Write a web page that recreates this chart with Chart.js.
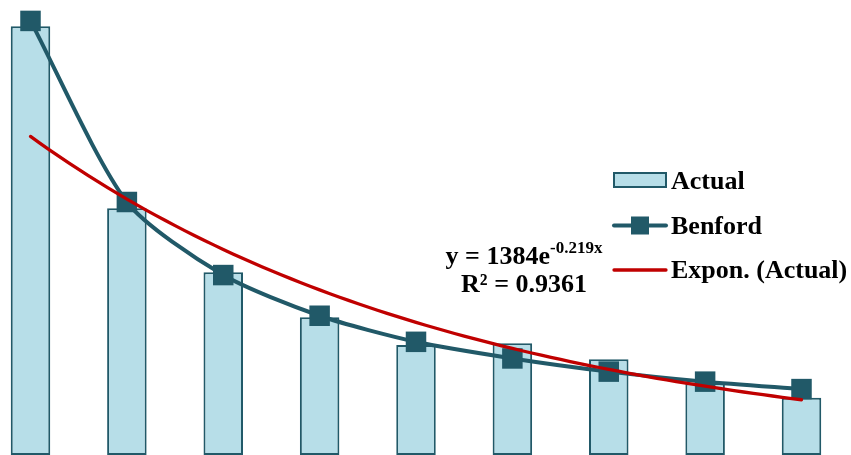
<!DOCTYPE html>
<html>
<head>
<meta charset="utf-8">
<script src="https://cdn.jsdelivr.net/npm/chart.js@4/dist/chart.umd.min.js"></script>
<style>
  html, body { margin: 0; padding: 0; background: #ffffff; overflow: hidden; }
  #wrap { position: relative; width: 851px; height: 455px; }
</style>
</head>
<body>
<div id="wrap"><canvas id="chart" width="851" height="455"></canvas></div>
<script>
// Leading digits 1..9
const digits = [1, 2, 3, 4, 5, 6, 7, 8, 9];
// Observed counts of each leading digit
const actual = [1496, 861, 638, 481, 384, 390, 334, 250, 200];
// Counts expected under Benford's law
const benford = [1515, 883, 628, 486, 395, 337, 291, 256, 230];
// Exponential trendline fitted to the observed counts: y = a * e^(b x)
const trendA = 1384;
const trendB = -0.219;
const trendR2 = 0.9361;

const TEAL = '#215968';
const LIGHT = '#B7DEE8';
const RED = '#C00000';
const SERIF = '"Liberation Serif", "Times New Roman", serif';

// Trendline sampled finely between the first and last digit
const trendPoints = [];
for (let x = digits[0]; x <= digits[digits.length - 1] + 1e-9; x += 0.1) {
  trendPoints.push({ x: x, y: trendA * Math.exp(trendB * x) });
}

// Legend and trendline equation drawn on top of the plot
const overlay = {
  id: 'overlay',
  afterDatasetsDraw(chart) {
    const ctx = chart.ctx;
    ctx.save();
    ctx.textBaseline = 'alphabetic';
    ctx.textAlign = 'left';

    // legend: Actual
    ctx.fillStyle = LIGHT;
    ctx.fillRect(614, 173, 52, 14);
    ctx.strokeStyle = TEAL;
    ctx.lineWidth = 2;
    ctx.strokeRect(614, 173, 52, 14);

    // legend: Benford
    ctx.lineCap = 'round';
    ctx.lineWidth = 4;
    ctx.beginPath();
    ctx.moveTo(614, 225.5);
    ctx.lineTo(666, 225.5);
    ctx.stroke();
    ctx.fillStyle = TEAL;
    ctx.fillRect(631, 216.5, 18, 18);

    // legend: trendline
    ctx.strokeStyle = RED;
    ctx.lineWidth = 3.3;
    ctx.beginPath();
    ctx.moveTo(614, 270);
    ctx.lineTo(666, 270);
    ctx.stroke();

    ctx.fillStyle = '#000';
    ctx.font = 'bold 26px ' + SERIF;
    ctx.fillText('Actual', 671, 189);
    ctx.fillText('Benford', 671, 233.5);
    ctx.fillText('Expon. (Actual)', 671, 278);

    // equation
    const main = 'y = ' + trendA + 'e';
    const sup = (trendB < 0 ? '-' : '') + Math.abs(trendB).toFixed(3) + 'x';
    ctx.font = 'bold 26px ' + SERIF;
    const wMain = ctx.measureText(main).width;
    ctx.font = 'bold 17px ' + SERIF;
    const wSup = ctx.measureText(sup).width;
    const cx = 524;
    const x0 = cx - (wMain + wSup) / 2;
    ctx.font = 'bold 26px ' + SERIF;
    ctx.fillText(main, x0, 263.5);
    ctx.font = 'bold 17px ' + SERIF;
    ctx.fillText(sup, x0 + wMain, 253);

    ctx.font = 'bold 26px ' + SERIF;
    ctx.textAlign = 'center';
    ctx.fillText('R\u00B2 = ' + trendR2.toFixed(4), cx, 291.5);
    ctx.restore();
  }
};

new Chart(document.getElementById('chart'), {
  data: {
    labels: digits,
    datasets: [
      {
        type: 'bar',
        label: 'Actual',
        data: actual,
        backgroundColor: LIGHT,
        borderColor: TEAL,
        borderWidth: 2,
        borderSkipped: false,
        categoryPercentage: 1,
        barPercentage: 0.41,
        order: 2
      },
      {
        type: 'line',
        label: 'Benford',
        data: benford,
        borderColor: TEAL,
        backgroundColor: TEAL,
        borderWidth: 4,
        tension: 0.25,
        pointStyle: 'rect',
        pointRadius: 14.5,
        pointBorderWidth: 0,
        fill: false,
        order: 1
      },
      {
        type: 'line',
        label: 'Expon. (Actual)',
        data: trendPoints,
        borderColor: RED,
        borderWidth: 3.3,
        borderCapStyle: 'round',
        pointRadius: 0,
        tension: 0,
        fill: false,
        order: 0
      }
    ]
  },
  options: {
    responsive: false,
    animation: false,
    devicePixelRatio: 1,
    layout: { padding: 0, autoPadding: false },
    plugins: {
      legend: { display: false },
      tooltip: { enabled: false },
      title: { display: false }
    },
    scales: {
      x: {
        type: 'linear',
        display: false,
        offset: false,
        min: 0.6835,
        max: 9.5136
      },
      y: {
        display: false,
        min: 0,
        max: 1588
      }
    }
  },
  plugins: [overlay]
});
</script>
</body>
</html>
